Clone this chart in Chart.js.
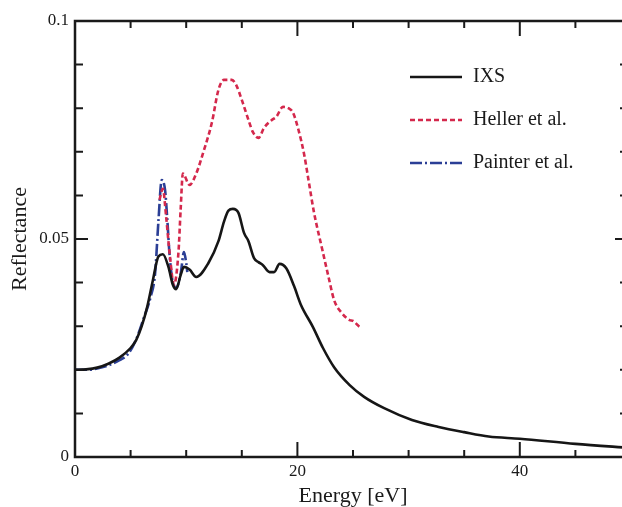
<!DOCTYPE html>
<html lang="en">

<head>
    <meta charset="UTF-8">
    <title>Reflectance</title>
    <script src="https://cdn.jsdelivr.net/npm/chart.js"></script>
    <style>
        html, body { margin: 0; padding: 0; background: #fff; overflow: hidden; }
        #wrap { width: 640px; height: 507px; }
    </style>
</head>

<body>
    <div id="wrap">
        <canvas id="reflChart" width="640" height="507"></canvas>
    </div>

    <script>
        // IXS (black, solid)
        const ixsE = [0, 1, 2, 3, 4, 5, 5.5, 6, 6.5, 7, 7.5, 7.9, 8.4, 8.8, 9.1, 9.5, 9.8, 10.3, 10.9,
            12, 12.9, 13.4, 13.8, 14.2, 14.7, 15.2, 15.6, 16.1, 16.5, 16.9, 17.5, 17.9, 18.4, 19.0,
            19.7, 20.3, 21.4, 22.3, 23.3, 24.7, 26, 27.8, 30.3, 32.7, 35, 37.2, 40, 45, 50];
        const ixsR = [0.0200, 0.0201, 0.0205, 0.0214, 0.0228, 0.0250, 0.0268, 0.0300, 0.0345, 0.0405,
            0.0460, 0.0465, 0.0436, 0.0395, 0.0385, 0.0417, 0.0436, 0.0430, 0.0413,
            0.0445, 0.0495, 0.0540, 0.0565, 0.0569, 0.0560, 0.0514, 0.0495, 0.0456, 0.0447, 0.0440,
            0.0424, 0.0424, 0.0443, 0.0433, 0.0392, 0.0350, 0.0298, 0.0250, 0.0206, 0.0165,
            0.0138, 0.0112, 0.0085, 0.0069, 0.0057, 0.0047, 0.0042, 0.0030, 0.0021];

        // Heller et al. (red, dashed)
        const hellerE = [7.6, 7.9, 8.2, 8.5, 8.9, 9.3, 9.5, 9.7, 10.3, 10.9, 11.6, 12.3, 12.9, 13.4,
            14.1, 14.5, 15, 15.6, 16.0, 16.5, 17.0, 17.7, 18.1, 18.7, 19.2, 19.6, 20.1, 20.6, 21.0,
            21.5, 22.2, 22.8, 23.3, 24.0, 24.7, 25.0, 25.6];
        const hellerR = [0.0590, 0.0615, 0.0550, 0.0470, 0.0395, 0.0468, 0.0567, 0.0650, 0.0624,
            0.0650, 0.0704, 0.0766, 0.0842, 0.0865, 0.0865, 0.0853, 0.0819, 0.0773, 0.0745, 0.0732,
            0.0755, 0.0773, 0.0780, 0.0803, 0.0800, 0.0790, 0.0750, 0.0695, 0.0635, 0.0560, 0.0480,
            0.0413, 0.0360, 0.0330, 0.0314, 0.0312, 0.0298];

        // Painter et al. (blue, dash-dot)
        const painterE = [0, 1, 2, 3, 4, 4.8, 5.5, 6.2, 6.8, 7.2, 7.5, 7.8, 8.1, 8.3, 8.5, 8.8, 9.1,
            9.5, 9.8, 10.0, 10.1];
        const painterR = [0.0200, 0.0200, 0.0203, 0.0210, 0.0222, 0.0237, 0.0270, 0.0320, 0.0367,
            0.0420, 0.0540, 0.0635, 0.0612, 0.0545, 0.0465, 0.0400, 0.0388, 0.0420, 0.0470, 0.0445,
            0.0424];

        const seriesNames = ['IXS', 'Heller et al.', 'Painter et al.'];

        // y ticks every 0.01, labelled at 0, 0.05, 0.1 ; x ticks every 5, labelled at 0, 20, 40
        const yLabelled = [0, 0.05, 0.1];
        const xLabelled = [0, 20, 40];

        const serif = "'Liberation Serif', 'Times New Roman', serif";
        const ink = '#1a1a1a';

        function toPoints(xs, ys) {
            return xs.map((x, i) => ({ x: x, y: ys[i] }));
        }

        function isLabelled(list, v) {
            return list.some(l => Math.abs(l - v) < 1e-9);
        }

        // frame with inward ticks on all four sides, plus the legend
        const framePlugin = {
            id: 'frame',
            afterDraw(chart) {
                const c = chart.ctx;
                const a = chart.chartArea;
                const xs = chart.scales.x;
                const ys = chart.scales.y;
                c.save();
                c.strokeStyle = ink;
                c.lineWidth = 2.5;
                // left, bottom and top spines (the right one falls outside the picture)
                c.beginPath();
                c.moveTo(a.right + 2, a.top);
                c.lineTo(a.left, a.top);
                c.lineTo(a.left, a.bottom);
                c.lineTo(a.right + 2, a.bottom);
                c.stroke();

                c.lineWidth = 2;
                c.beginPath();
                for (let v = 5; v < 50; v += 5) {
                    const px = xs.getPixelForValue(v);
                    const len = isLabelled(xLabelled, v) ? 15 : 7;
                    c.moveTo(px, a.bottom); c.lineTo(px, a.bottom - len);
                    c.moveTo(px, a.top); c.lineTo(px, a.top + len);
                }
                for (let k = 1; k < 10; k++) {
                    const v = k / 100;
                    const py = ys.getPixelForValue(v);
                    const len = isLabelled(yLabelled, v) ? 13 : 8;
                    c.moveTo(a.left, py); c.lineTo(a.left + len, py);
                    c.moveTo(a.right, py); c.lineTo(a.right - len - 3, py);
                }
                c.stroke();

                // legend
                const rows = [77, 120, 163];
                c.font = '20px ' + serif;
                c.textBaseline = 'middle';
                chart.data.datasets.forEach((ds, i) => {
                    c.strokeStyle = ds.borderColor;
                    c.lineWidth = 2.5;
                    c.setLineDash(ds.borderDash || []);
                    c.beginPath();
                    c.moveTo(410, rows[i]);
                    c.lineTo(462, rows[i]);
                    c.stroke();
                    c.setLineDash([]);
                    c.fillStyle = ink;
                    c.fillText(seriesNames[i], 473, rows[i]);
                });
                c.restore();
            }
        };

        const ctx = document.getElementById('reflChart').getContext('2d');

        const reflChart = new Chart(ctx, {
            type: 'line',
            data: {
                datasets: [
                    {
                        label: seriesNames[0],
                        data: toPoints(ixsE, ixsR),
                        borderColor: '#161616',
                        borderWidth: 2.6,
                        pointRadius: 0,
                        cubicInterpolationMode: 'monotone'
                    },
                    {
                        label: seriesNames[1],
                        data: toPoints(hellerE, hellerR),
                        borderColor: '#d4284c',
                        borderWidth: 2.6,
                        borderDash: [5, 3],
                        pointRadius: 0,
                        cubicInterpolationMode: 'monotone'
                    },
                    {
                        label: seriesNames[2],
                        data: toPoints(painterE, painterR),
                        borderColor: '#2b3f96',
                        borderWidth: 2.6,
                        borderDash: [12, 3, 2, 3],
                        pointRadius: 0,
                        cubicInterpolationMode: 'monotone'
                    }
                ]
            },
            options: {
                responsive: false,
                animation: false,
                devicePixelRatio: 1,
                layout: { padding: { top: 21, right: 9, left: 0, bottom: 0 } },
                plugins: {
                    legend: { display: false },
                    tooltip: { enabled: false }
                },
                scales: {
                    x: {
                        type: 'linear',
                        min: 0,
                        max: 50,
                        grid: { display: false, drawTicks: false },
                        border: { display: false },
                        ticks: {
                            stepSize: 5,
                            autoSkip: false,
                            maxRotation: 0,
                            padding: 4,
                            color: ink,
                            font: { family: serif, size: 17 },
                            callback: v => isLabelled(xLabelled, v) ? String(v) : ''
                        },
                        title: {
                            display: true,
                            text: 'Energy [eV]',
                            color: ink,
                            font: { family: serif, size: 22, lineHeight: 1.0 },
                            padding: { top: 0, bottom: 0 }
                        },
                        afterFit: s => { s.height = 50; }
                    },
                    y: {
                        min: 0,
                        max: 0.1,
                        grid: { display: false, drawTicks: false },
                        border: { display: false },
                        ticks: {
                            stepSize: 0.01,
                            autoSkip: false,
                            padding: 6,
                            color: ink,
                            font: { family: serif, size: 17 },
                            callback: v => {
                                if (!isLabelled(yLabelled, v)) return '';
                                return v === 0 ? '0' : String(Math.round(v * 100) / 100);
                            }
                        },
                        title: {
                            display: true,
                            text: 'Reflectance',
                            color: ink,
                            font: { family: serif, size: 22 },
                            padding: { top: 7, bottom: 0 }
                        },
                        afterFit: s => { s.width = 75; }
                    }
                }
            },
            plugins: [framePlugin]
        });
    </script>
</body>

</html>
